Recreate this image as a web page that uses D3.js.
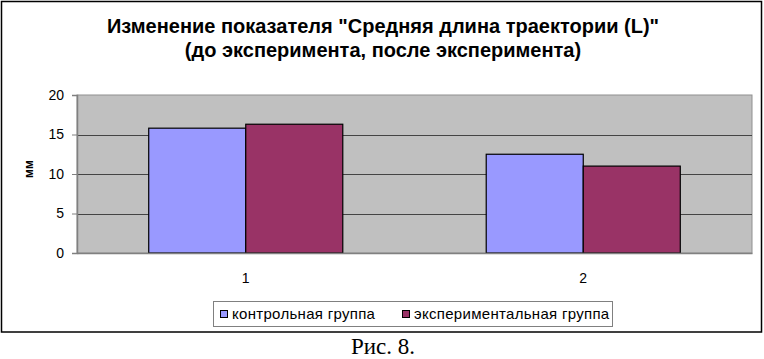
<!DOCTYPE html>
<html>
<head>
<meta charset="utf-8">
<script src="https://cdnjs.cloudflare.com/ajax/libs/d3/7.8.5/d3.min.js"></script>
<style>
  html, body { margin: 0; padding: 0; background: #fff; }
  svg { display: block; }
</style>
</head>
<body>
<div id="chart"></div>
<script>
// данные диаграммы
const categories = ['1', '2'];
const seriesNames = ['контрольная группа', 'экспериментальная группа'];
const controlValues = [15.8, 12.5];
const experimentValues = [16.3, 11.0];
const yTicks = [0, 5, 10, 15, 20];
const titleLines = ['Изменение показателя "Средняя длина траектории (L)"', '(до эксперимента, после эксперимента)'];

const W = 764, H = 359;
const plot = { left: 77, right: 752, top: 95, bottom: 253 };
const colors = ['#9999ff', '#993366'];
const sans = 'Arial, "Liberation Sans", sans-serif';

const svg = d3.select('#chart').append('svg')
  .attr('width', W)
  .attr('height', H);

// рамка диаграммы
svg.append('rect')
  .attr('x', 1.5).attr('y', 1.5)
  .attr('width', 760).attr('height', 330.5)
  .attr('fill', '#fff')
  .attr('stroke', '#000')
  .attr('stroke-width', 1.5);

// заголовок
svg.selectAll('.title')
  .data(titleLines)
  .enter().append('text')
  .attr('class', 'title')
  .attr('x', 383)
  .attr('y', (d, i) => 33 + i * 24)
  .attr('text-anchor', 'middle')
  .style('font-family', sans)
  .style('font-weight', 'bold')
  .style('font-size', '20px')
  .text(d => d);

// шкалы
const x = d3.scaleBand()
  .domain(categories)
  .range([plot.left, plot.right])
  .padding(0);

const groupWidth = x.bandwidth() * 0.575;
const xSub = d3.scaleBand()
  .domain(d3.range(seriesNames.length))
  .range([0, groupWidth]);

const y = d3.scaleLinear()
  .domain([0, 20])
  .range([plot.bottom, plot.top]);

// область построения
svg.append('rect')
  .attr('x', plot.left).attr('y', plot.top)
  .attr('width', plot.right - plot.left)
  .attr('height', plot.bottom - plot.top)
  .attr('fill', '#c0c0c0')
  .attr('stroke', '#909090')
  .attr('stroke-width', 1);

// сетка
svg.append('g')
  .selectAll('line')
  .data(yTicks.filter(t => t > 0 && t < 20))
  .enter().append('line')
  .attr('x1', plot.left).attr('x2', plot.right)
  .attr('y1', d => Math.round(y(d)) + 0.5)
  .attr('y2', d => Math.round(y(d)) + 0.5)
  .attr('stroke', '#444')
  .attr('stroke-width', 1);

// столбцы
const seriesValues = [controlValues, experimentValues];
const groups = svg.append('g')
  .selectAll('g')
  .data(categories)
  .enter().append('g')
  .attr('transform', c => `translate(${x(c) + (x.bandwidth() - groupWidth) / 2},0)`);

groups.selectAll('rect')
  .data((c, ci) => seriesValues.map((vals, si) => ({ s: si, v: vals[ci] })))
  .enter().append('rect')
  .attr('x', d => xSub(d.s))
  .attr('y', d => y(d.v))
  .attr('width', xSub.bandwidth())
  .attr('height', d => y(0) - y(d.v))
  .attr('fill', d => colors[d.s])
  .attr('stroke', '#000')
  .attr('stroke-width', 1.2);

// ось Y
const yAxis = svg.append('g')
  .attr('transform', `translate(${plot.left},0)`)
  .call(d3.axisLeft(y).tickValues(yTicks).tickSize(5).tickPadding(8));
yAxis.select('.domain').attr('stroke', '#808080').attr('stroke-width', 1.5);
yAxis.selectAll('.tick line').attr('stroke', '#808080');
yAxis.selectAll('.tick text')
  .style('font-family', sans)
  .style('font-size', '14px')
  .attr('fill', '#000');

// ось X
const xAxis = svg.append('g')
  .attr('transform', `translate(0,${plot.bottom})`)
  .call(d3.axisBottom(x).tickSize(0).tickPadding(20));
xAxis.select('.domain').attr('stroke', '#808080').attr('stroke-width', 1.5);
xAxis.selectAll('.tick text')
  .style('font-family', sans)
  .style('font-size', '14px')
  .attr('fill', '#000');

// подпись оси Y
svg.append('text')
  .attr('transform', 'translate(33,169) rotate(-90)')
  .attr('text-anchor', 'middle')
  .style('font-family', sans)
  .style('font-weight', 'bold')
  .style('font-size', '12px')
  .text('мм');

// легенда
const legend = svg.append('g');
legend.append('rect')
  .attr('x', 213.5).attr('y', 301.5)
  .attr('width', 399).attr('height', 25)
  .attr('fill', '#fff')
  .attr('stroke', '#808080');

const legendX = [220, 402];
const items = legend.selectAll('.item')
  .data(seriesNames)
  .enter().append('g')
  .attr('class', 'item')
  .attr('transform', (d, i) => `translate(${legendX[i]},0)`);
items.append('rect')
  .attr('x', 0.5).attr('y', 310.5)
  .attr('width', 7).attr('height', 7)
  .attr('fill', (d, i) => colors[i])
  .attr('stroke', '#000');
items.append('text')
  .attr('x', 12).attr('y', 319)
  .style('font-family', sans)
  .style('font-size', '15px')
  .style('letter-spacing', '0.3px')
  .text(d => d);

// подпись рисунка
svg.append('text')
  .attr('x', 383).attr('y', 354)
  .attr('text-anchor', 'middle')
  .style('font-family', '"Times New Roman", "Liberation Serif", serif')
  .style('font-size', '23px')
  .text('Рис. 8.');
</script>
</body>
</html>
